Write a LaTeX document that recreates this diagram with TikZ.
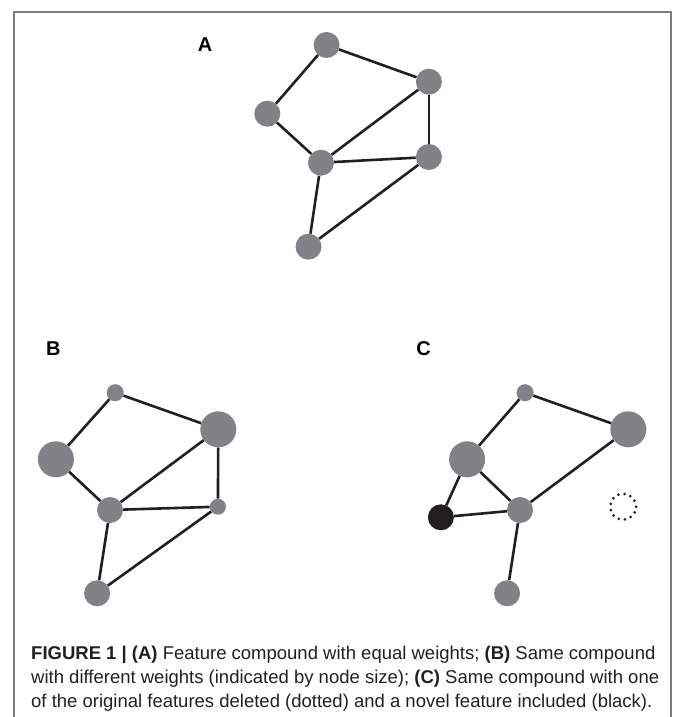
\documentclass[tikz,border=0pt]{standalone}
\usepackage{fontspec}
\setmainfont{Liberation Sans}
\definecolor{nodegray}{RGB}{128,130,133}
\definecolor{nodeblack}{RGB}{35,31,32}
\definecolor{framegray}{RGB}{125,125,125}
\definecolor{captext}{RGB}{35,31,32}
\begin{document}
\begin{tikzpicture}[x=1pt,y=-1pt,
  feat/.style={circle,fill=nodegray,draw=none,inner sep=0pt,minimum size=#1},
  feat/.default=26pt,
  newfeat/.style={circle,fill=nodeblack,draw=none,inner sep=0pt,minimum size=26pt},
  delfeat/.style={circle,draw=nodeblack,inner sep=0pt,minimum size=26pt,line width=3pt,line cap=round,dash pattern=on 0pt off 6.28pt},
  edge/.style={line width=2.6pt,draw=nodeblack},
  panel/.style={font=\fontsize{20}{22}\selectfont\bfseries,anchor=base,inner sep=0pt},
  capline/.style={font=\fontsize{18.5}{24}\selectfont,text=captext,anchor=base west,inner sep=0pt}]
\useasboundingbox (0,0) rectangle (673,717);
\draw[framegray,line width=2pt] (14,717) -- (14,12) -- (671,12) -- (671,717);

% Panel A
\node[panel] (la) at (205,51.7) {A};
\node[feat] (a1) at (326.6,45) {};
\node[feat] (a2) at (428.9,81.7) {};
\node[feat] (a3) at (267.3,113.7) {};
\node[feat] (a4) at (321,162.7) {};
\node[feat] (a5) at (428.9,157) {};
\node[feat] (a6) at (308.5,246.7) {};
\begin{scope}[edge]
\draw (a1) -- (a3); \draw (a1) -- (a2); \draw (a3) -- (a4); \draw (a4) -- (a2);
\draw (a2) -- (a5); \draw (a4) -- (a5); \draw (a4) -- (a6); \draw (a5) -- (a6);
\end{scope}

% Panel B
\node[panel] (lb) at (53.3,355) {B};
\node[feat=17pt] (b1) at (115.2,392.7) {};
\node[feat=36pt] (b2) at (218.3,429.3) {};
\node[feat=36pt] (b3) at (55.9,459.3) {};
\node[feat] (b4) at (110,510) {};
\node[feat=16pt] (b5) at (217.9,506.7) {};
\node[feat] (b6) at (97.1,593.3) {};
\begin{scope}[edge]
\draw (b1) -- (b3); \draw (b1) -- (b2); \draw (b3) -- (b4); \draw (b4) -- (b2);
\draw (b2) -- (b5); \draw (b4) -- (b5); \draw (b4) -- (b6); \draw (b5) -- (b6);
\end{scope}

% Panel C
\node[panel] (lc) at (423.7,355) {C};
\node[feat=17pt] (c1) at (525.1,392.7) {};
\node[feat=36pt] (c2) at (628.3,429.3) {};
\node[feat=36pt] (c3) at (467.1,459.3) {};
\node[feat] (c4) at (520,510) {};
\node[newfeat] (cn) at (440.9,517.3) {};
\node[feat] (c6) at (507.1,593.3) {};
\node[delfeat] (cd) at (623.1,506.7) {};
\begin{scope}[edge]
\draw (c1) -- (c3); \draw (c1) -- (c2); \draw (c3) -- (c4); \draw (c4) -- (c2);
\draw (c3) -- (cn); \draw (cn) -- (c4); \draw (c4) -- (c6);
\end{scope}

% Caption
\node[capline] (cap1) at (31,659) {\textbf{FIGURE 1 | (A)} Feature compound with equal weights; \textbf{(B)} Same compound};
\node[capline] (cap2) at (31,683) {with different weights (indicated by node size); \textbf{(C)} Same compound with one};
\node[capline] (cap3) at (31,707) {of the original features deleted (dotted) and a novel feature included (black).};
\end{tikzpicture}
\end{document}
